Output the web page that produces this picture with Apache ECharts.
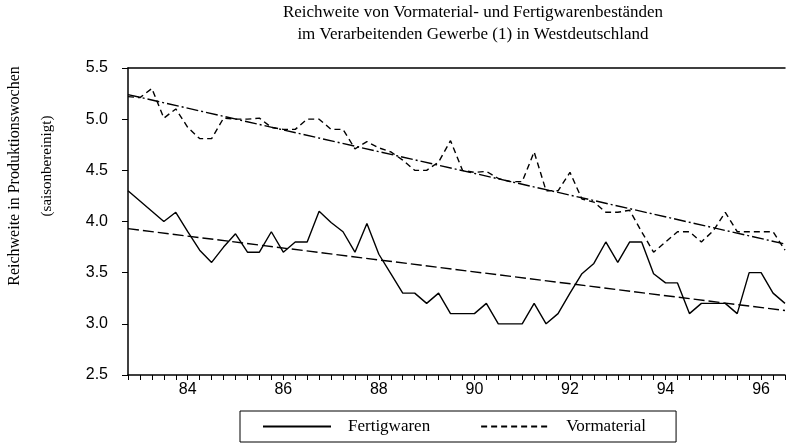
<!DOCTYPE html>
<html>
<head>
<meta charset="utf-8">
<script src="https://cdn.jsdelivr.net/npm/echarts@6/dist/echarts.min.js"></script>
<style>
html,body{margin:0;padding:0;background:#fff;}
#c{width:787px;height:445px;}
</style>
</head>
<body>
<div id="c"></div>
<script>
const quarters = ['82Q4',
 '83Q1','83Q2','83Q3','83Q4','84Q1','84Q2','84Q3','84Q4',
 '85Q1','85Q2','85Q3','85Q4','86Q1','86Q2','86Q3','86Q4',
 '87Q1','87Q2','87Q3','87Q4','88Q1','88Q2','88Q3','88Q4',
 '89Q1','89Q2','89Q3','89Q4','90Q1','90Q2','90Q3','90Q4',
 '91Q1','91Q2','91Q3','91Q4','92Q1','92Q2','92Q3','92Q4',
 '93Q1','93Q2','93Q3','93Q4','94Q1','94Q2','94Q3','94Q4',
 '95Q1','95Q2','95Q3','95Q4','96Q1','96Q2','96Q3'];
const tickLabels = ['84','86','88','90','92','94','96'];
const fertigwaren = [4.30,4.20,4.10,4.00,4.09,3.90,3.72,3.60,3.75,3.88,
 3.70,3.70,3.90,3.70,3.80,3.80,4.10,3.99,3.90,3.70,
 3.98,3.68,3.49,3.30,3.30,3.20,3.30,3.10,3.10,3.10,
 3.20,3.00,3.00,3.00,3.20,3.00,3.10,3.30,3.49,3.59,
 3.80,3.60,3.80,3.80,3.49,3.40,3.40,3.10,3.20,3.20,
 3.20,3.10,3.50,3.50,3.30,3.20];
const vormaterial = [5.22,5.21,5.30,5.01,5.10,4.92,4.81,4.81,5.01,5.00,
 5.00,5.01,4.92,4.90,4.90,5.00,5.00,4.90,4.90,4.71,
 4.78,4.72,4.68,4.60,4.50,4.50,4.58,4.79,4.50,4.48,
 4.49,4.42,4.39,4.39,4.68,4.30,4.30,4.48,4.22,4.19,
 4.09,4.09,4.11,3.90,3.70,3.80,3.90,3.90,3.80,3.91,
 4.09,3.90,3.90,3.90,3.90,3.72];
const fertTrend = [3.93, 3.13];
const vorTrend = [5.24, 3.78];
const yTicks = {min: 2.5, max: 5.5, interval: 0.5};

const chart = echarts.init(document.getElementById('c'), null, {renderer: 'canvas'});
const last = quarters.length - 1;
const serif = 'Liberation Serif';
const sans = 'Liberation Sans';
chart.setOption({
  animation: false,
  backgroundColor: '#fff',
  title: {
    text: 'Reichweite von Vormaterial- und Fertigwarenbeständen\nim Verarbeitenden Gewerbe (1) in Westdeutschland',
    left: 468, top: -3, textAlign: 'center',
    textStyle: {fontFamily: serif, fontSize: 17, fontWeight: 'normal', color: '#000', lineHeight: 22}
  },
  grid: {left: 128, right: 2, top: 68, bottom: 70},
  legend: {
    data: ['Fertigwaren', 'Vormaterial'],
    left: 240, top: 411,
    itemWidth: 68, itemHeight: 10, itemGap: 50,
    padding: [7, 30, 7, 22],
    borderColor: '#000', borderWidth: 1,
    itemStyle: {opacity: 0},
    textStyle: {fontFamily: serif, fontSize: 17, color: '#000', padding: [0, 0, 0, 12]}
  },
  graphic: [
    {type: 'text', x: 15, y: 176, rotation: Math.PI / 2,
     style: {text: 'Reichweite in Produktionswochen', fill: '#000', font: '16px "Liberation Serif"', textAlign: 'center', textVerticalAlign: 'middle', verticalAlign: 'middle'}},
    {type: 'text', x: 47, y: 166, rotation: Math.PI / 2,
     style: {text: '(saisonbereinigt)', fill: '#000', font: '15px "Liberation Serif"', textAlign: 'center', textVerticalAlign: 'middle', verticalAlign: 'middle'}}
  ],
  xAxis: [{
    type: 'category', data: quarters, boundaryGap: false,
    axisLine: {lineStyle: {color: '#000', width: 1.5}},
    axisTick: {interval: 0, length: 5, lineStyle: {color: '#000'}},
    axisLabel: {
      interval: function (i, v) { return v.slice(2) === 'Q1' && tickLabels.indexOf(v.slice(0, 2)) >= 0; },
      formatter: function (v) { return v.slice(0, 2); },
      color: '#000', fontFamily: sans, fontSize: 16, margin: 7
    },
    splitLine: {show: false}
  }, {
    type: 'category', data: quarters, boundaryGap: false, position: 'top',
    axisLine: {onZero: false, lineStyle: {color: '#000', width: 1.5}},
    axisTick: {show: false}, axisLabel: {show: false}, splitLine: {show: false}
  }],
  yAxis: {
    type: 'value', min: yTicks.min, max: yTicks.max, interval: yTicks.interval,
    axisLine: {show: true, lineStyle: {color: '#000', width: 1.5}},
    axisTick: {show: true, length: 6, lineStyle: {color: '#000'}},
    axisLabel: {formatter: function (v) { return v.toFixed(1); }, color: '#000', fontFamily: sans, fontSize: 16, margin: 20},
    splitLine: {show: false}
  },
  series: [
    {name: 'Fertigwaren', type: 'line', data: fertigwaren, symbol: 'none', z: 4,
     lineStyle: {color: '#000', width: 1.4, type: 'solid'}, itemStyle: {color: '#000'}},
    {name: 'Vormaterial', type: 'line', data: vormaterial, symbol: 'none', z: 4,
     lineStyle: {color: '#000', width: 1.4, type: [6, 4]}, itemStyle: {color: '#000'}},
    {name: 'Trend Fertigwaren', type: 'line', symbol: 'none', z: 3,
     data: [[quarters[0], fertTrend[0]], [quarters[last], fertTrend[1]]],
     lineStyle: {color: '#000', width: 1.4, type: [11, 4]}},
    {name: 'Trend Vormaterial', type: 'line', symbol: 'none', z: 3,
     data: [[quarters[0], vorTrend[0]], [quarters[last], vorTrend[1]]],
     lineStyle: {color: '#000', width: 1.4, type: [12, 3, 2, 3]}}
  ]
});
</script>
</body>
</html>
